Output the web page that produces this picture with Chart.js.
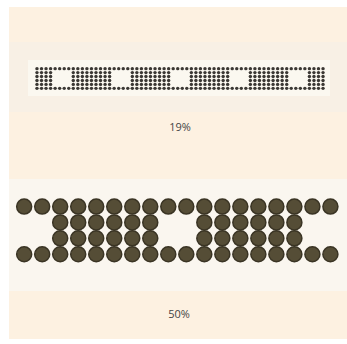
<!DOCTYPE html>
<html>
<head>
<meta charset="utf-8">
<script src="https://cdn.jsdelivr.net/npm/chart.js@4/dist/chart.umd.min.js"></script>
<style>
  body { margin: 0; background: #ffffff; width: 347px; height: 344px; position: relative; overflow: hidden; font-family: "Open Sans", sans-serif; }
  .panel { position: absolute; left: 9px; top: 7px; width: 338px; height: 332px; background: #fdf1e1; }
  .band1 { position: absolute; left: 9px; top: 42px; width: 338px; height: 70px; background: #f8f0e5; }
  .band1in { position: absolute; left: 28px; top: 60px; width: 302px; height: 36px; background: #fbf8f0; }
  .band2 { position: absolute; left: 9px; top: 179px; width: 338px; height: 112px; background: #faf6ef; }
  .lbl { position: absolute; width: 100px; text-align: center; font-size: 11px; color: #444; }
  canvas { position: absolute; }
</style>
</head>
<body>
<div class="panel"></div>
<div class="band1"></div>
<div class="band1in"></div>
<div class="band2"></div>
<canvas id="chartTop" width="294" height="27" style="left:33px;top:65px"></canvas>
<canvas id="chartBottom" width="347" height="110" style="left:0px;top:180px"></canvas>
<div class="lbl" id="lblTop" style="left:130px;top:119px"></div>
<div class="lbl" id="lblBottom" style="left:129px;top:306px"></div>
<script>
// bead patterns, '#' = bead, '.' = empty
const topRows = [
  "################################################################",
  "####....#########....#########....#########....#########....####",
  "####....#########....#########....#########....#########....####",
  "####....#########....#########....#########....#########....####",
  "####....#########....#########....#########....#########....####",
  "################################################################"
];
const bottomRows = [
  "##################",
  "..######..######..",
  "..######..######..",
  "##################"
];
const bandLabels = ["19%", "50%"];

function toPoints(rows) {
  let pts = [];
  rows.forEach((row, r) => {
    for (let c = 0; c < row.length; c++) {
      if (row[c] === "#") pts.push({ x: c, y: r });
    }
  });
  return pts;
}

function makeChart(id, rows, xRange, yRange, radius, fill, border, bw) {
  const ctx = document.getElementById(id).getContext("2d");
  return new Chart(ctx, {
    type: "scatter",
    data: {
      datasets: [{
        data: toPoints(rows),
        pointRadius: radius,
        pointHoverRadius: radius,
        backgroundColor: fill,
        borderColor: border,
        borderWidth: bw,
        clip: false
      }]
    },
    options: {
      responsive: false,
      animation: false,
      devicePixelRatio: 1,
      layout: { padding: 0 },
      plugins: { legend: { display: false }, tooltip: { enabled: false } },
      scales: {
        x: { type: "linear", display: false, min: xRange[0], max: xRange[1] },
        y: { type: "linear", display: false, reverse: true, min: yRange[0], max: yRange[1] }
      }
    }
  });
}

makeChart("chartTop", topRows, [-0.5, 63.5], [-0.5, 5.5], 1.7, "#3b3834", "#3b3834", 0);
makeChart("chartBottom", bottomRows, [-16 / 19, 331 / 19], [-21 / 19, 3 + 32 / 19], 7.5, "#554d36", "#3a3424", 1.5);

document.getElementById("lblTop").textContent = bandLabels[0];
document.getElementById("lblBottom").textContent = bandLabels[1];
</script>
</body>
</html>
